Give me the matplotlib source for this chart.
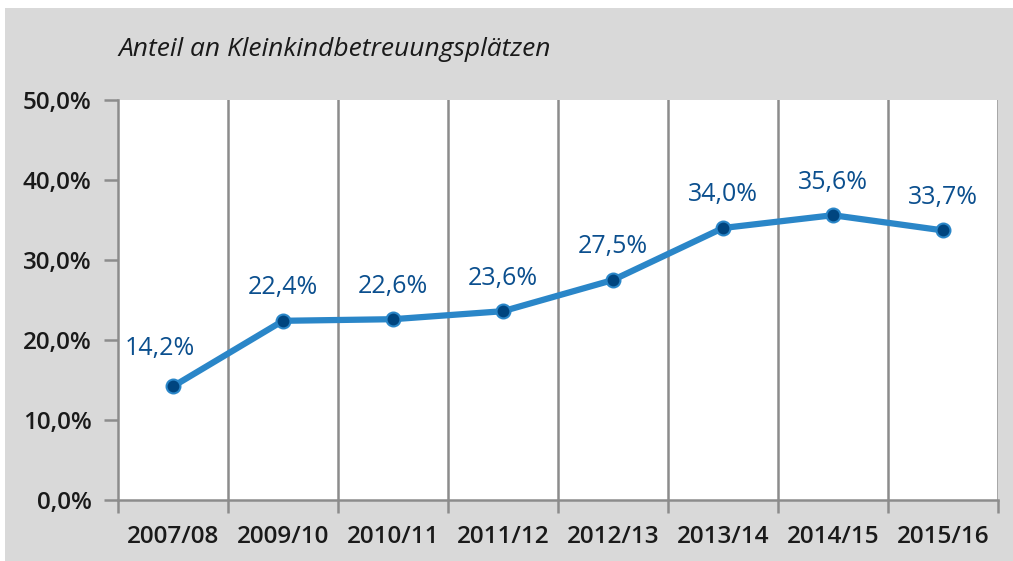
import matplotlib
matplotlib.use("Agg")
import matplotlib.pyplot as plt
from matplotlib.patches import Rectangle

# Daten
jahre = ["2007/08", "2009/10", "2010/11", "2011/12", "2012/13", "2013/14", "2014/15", "2015/16"]
anteil = [14.2, 22.4, 22.6, 23.6, 27.5, 34.0, 35.6, 33.7]
y_ticks = [0, 10, 20, 30, 40, 50]
titel = "Anteil an Kleinkindbetreuungsplätzen"

W, H = 1013, 561
fig = plt.figure(figsize=(W / 100, H / 100), dpi=100)
fig.patch.set_facecolor("white")
# grauer Hintergrund (oben und links schmaler weißer Rand)
fig.patches.append(Rectangle((5 / W, 0), 1, (H - 8) / H, transform=fig.transFigure,
                             facecolor="#d9d9d9", edgecolor="none", zorder=-5))

ax = fig.add_axes([118 / W, 61 / H, 880 / W, 400 / H])
ax.set_facecolor("white")

x = list(range(len(jahre)))
ax.plot(x, anteil, color="#2a86c8", lw=4.5, solid_capstyle="round", zorder=3)
ax.plot(x, anteil, "o", ms=10, mfc="#00457f", mec="#2a86c8", mew=1.5, zorder=4)

for i, v in enumerate(anteil):
    dx = -13 if i == 0 else 0
    dy = 38 if i == 0 else 33
    ax.annotate(f"{v:.1f}%".replace(".", ","), (i, v), xytext=(dx * 0.72, dy * 0.72),
                textcoords="offset points", ha="center", va="center",
                fontsize=18, color="#0b4f8e", family="Open Sans", fontweight="medium")

ax.set_xlim(-0.5, len(jahre) - 0.5)
ax.set_ylim(0, 50)
ax.set_yticks(y_ticks)
ax.set_yticklabels([f"{t:.1f}%".replace(".", ",") for t in y_ticks])

# vertikale Gitterlinien an den Kategoriegrenzen
grenzen = [i + 0.5 for i in range(len(jahre))]
for g in grenzen:
    ax.axvline(g, color="#8c8c8c", lw=1.8, zorder=1)
ax.set_xticks([i - 0.5 for i in range(len(jahre) + 1)])
ax.set_xticklabels([])
ax.set_xticks(x, minor=True)
ax.set_xticklabels(jahre, minor=True)
ax.tick_params(axis="x", which="minor", length=0, pad=18, labelsize=17.5)
ax.tick_params(axis="x", which="major", length=9, width=1.8, color="#8c8c8c")
ax.tick_params(axis="y", length=10, width=1.8, color="#8c8c8c", pad=9, labelsize=17.5)
for lbl in ax.get_xticklabels(minor=True) + ax.get_yticklabels():
    lbl.set_family("Open Sans")
    lbl.set_fontweight("semibold")
    lbl.set_color("#1a1a1a")

for s in ["top", "right"]:
    ax.spines[s].set_visible(False)
for s in ["left", "bottom"]:
    ax.spines[s].set_color("#8c8c8c")
    ax.spines[s].set_linewidth(1.8)

fig.text(118 / W, 1 - 50 / H, titel, fontsize=19, style="italic", family="Open Sans",
         color="#1a1a1a", va="center", ha="left")

fig.savefig("out.png", dpi=100, facecolor=fig.get_facecolor())
